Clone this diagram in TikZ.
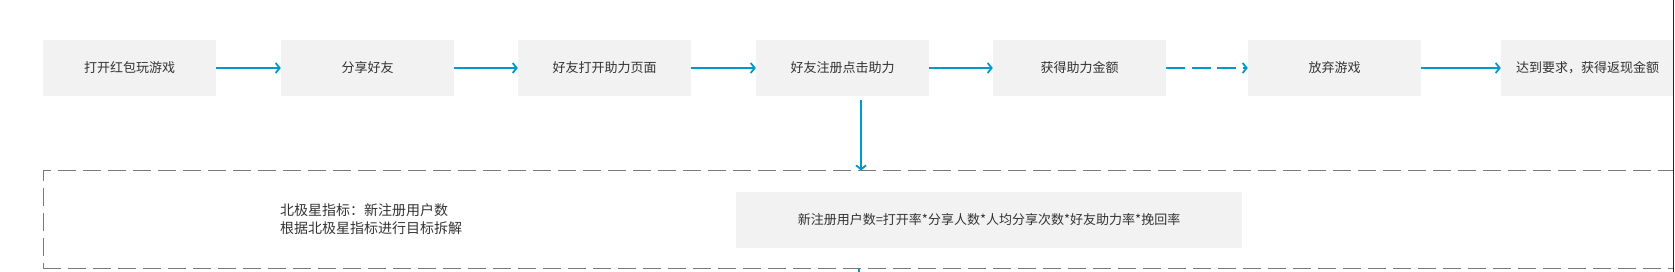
\documentclass[tikz,border=0pt]{standalone}
\usepackage{fontspec}
\setmainfont{Noto Sans CJK SC}
\usepackage{xcolor}
\usetikzlibrary{
    positioning,
    arrows.meta,
    calc
}
\definecolor{flowblue}{HTML}{0099CC}
\definecolor{boxgray}{HTML}{F2F2F2}
\definecolor{txtgray}{HTML}{333333}
\definecolor{dashgray}{HTML}{7A7A7A}

\begin{document}
\begin{tikzpicture}[
  x=1pt, y=-1pt,
  font=\fontsize{13pt}{18pt}\selectfont,
  arrow/.style={-{Straight Barb[length=4pt, width=10pt]}, line width=1.8pt, draw=flowblue},
  stub/.style={line width=1.8pt, draw=flowblue},
  stepbox/.style={fill=boxgray, rectangle, minimum height=56pt, minimum width=173pt,
                  inner sep=0pt, text=txtgray, align=center},
  frame/.style={draw=dashgray, line width=1pt, dash pattern=on 18pt off 7pt,
                rectangle, minimum width=1630pt, minimum height=98pt, inner sep=0pt},
  note/.style={text=txtgray, align=left, inner sep=0pt, anchor=west,
               font=\fontsize{14pt}{18pt}\selectfont}
]
\useasboundingbox (0,0) rectangle (1675,272);

% Game flow row
\node[stepbox] (open) at (129.5,68) {打开红包玩游戏};
\node[stepbox] (share) at (367.5,68) {分享好友};
\node[stepbox] (visit) at (604.5,68) {好友打开助力页面};
\node[stepbox] (register) at (842.5,68) {好友注册点击助力};
\node[stepbox] (reward) at (1079.5,68) {获得助力金额};
\node[stepbox] (quit) at (1334.5,68) {放弃游戏};
\node[stepbox] (cashback) at (1587.5,68) {达到要求，获得返现金额};

% Target breakdown frame
\node[frame] (target) at (858,220) {};
\node[note] (northstar) at (280,219) {北极星指标：新注册用户数\\根据北极星指标进行目标拆解};
\node[stepbox, minimum width=506pt] (formula) at (989,220) {新注册用户数=打开率*分享人数*人均分享次数*好友助力率*挽回率};

% Flow arrows
\draw[arrow] (open) -- (share);
\draw[arrow] (share) -- (visit);
\draw[arrow] (visit) -- (register);
\draw[arrow] (register) -- (reward);
\draw[arrow, dash pattern=on 19pt off 6.5pt] (reward) -- (quit);
\draw[arrow] (quit) -- (cashback);

% Drop into the frame
\coordinate (drop) at (861,100);
\coordinate (exit) at (859,272);
\draw[arrow] (drop) -- (drop |- target.north);
\draw[stub] (exit |- target.south) -- (exit);

% Right border
\draw[line width=1.5pt, draw=black!85] (1673.5,0) -- (1673.5,272);

\end{tikzpicture}
\end{document}
